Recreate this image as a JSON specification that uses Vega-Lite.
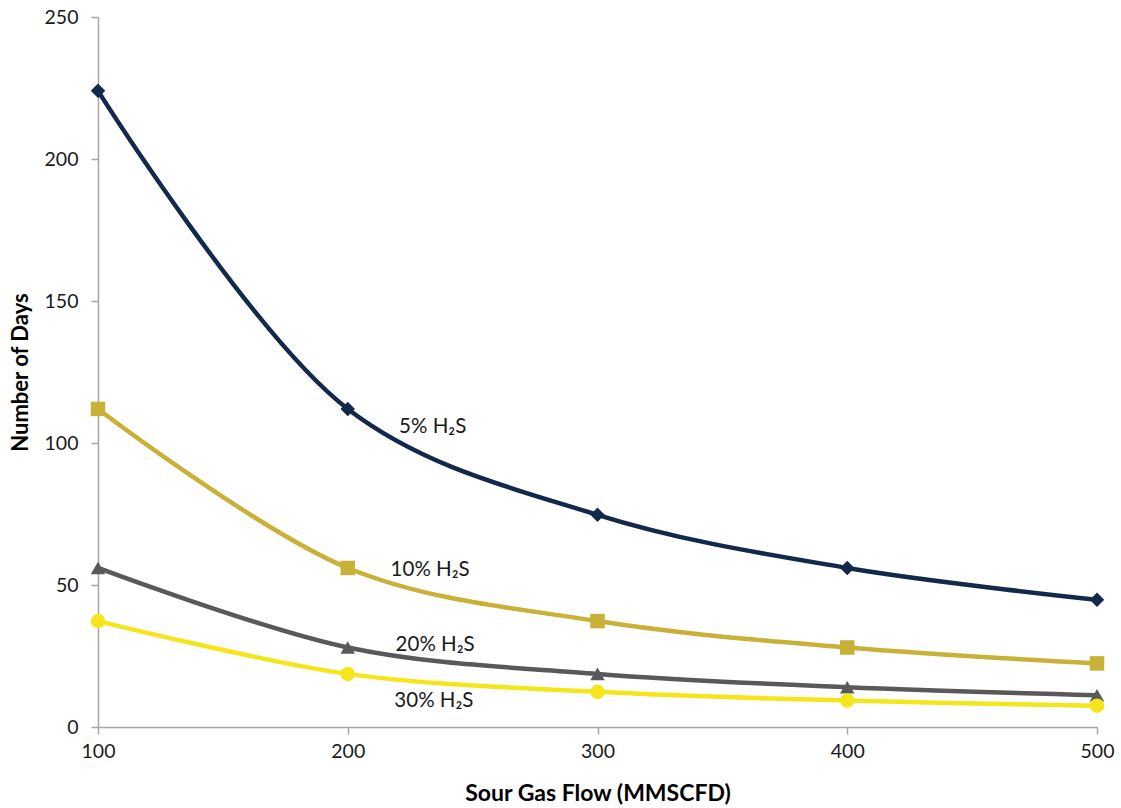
{
  "$schema": "https://vega.github.io/schema/vega-lite/v6.json",
  "width": 999,
  "height": 710,
  "autosize": {"type": "none"},
  "padding": {"left": 98, "top": 17, "right": 24, "bottom": 81},
  "background": "white",
  "config": {
    "view": {"stroke": null},
    "font": "Lato"
  },
  "datasets": {
    "series": [
      {"flow": 100, "days": 224, "series": "5% H2S"},
      {"flow": 200, "days": 112, "series": "5% H2S"},
      {"flow": 300, "days": 74.7, "series": "5% H2S"},
      {"flow": 400, "days": 56, "series": "5% H2S"},
      {"flow": 500, "days": 44.8, "series": "5% H2S"},
      {"flow": 100, "days": 112, "series": "10% H2S"},
      {"flow": 200, "days": 56, "series": "10% H2S"},
      {"flow": 300, "days": 37.3, "series": "10% H2S"},
      {"flow": 400, "days": 28, "series": "10% H2S"},
      {"flow": 500, "days": 22.4, "series": "10% H2S"},
      {"flow": 100, "days": 56, "series": "20% H2S"},
      {"flow": 200, "days": 28, "series": "20% H2S"},
      {"flow": 300, "days": 18.7, "series": "20% H2S"},
      {"flow": 400, "days": 14, "series": "20% H2S"},
      {"flow": 500, "days": 11.2, "series": "20% H2S"},
      {"flow": 100, "days": 37.3, "series": "30% H2S"},
      {"flow": 200, "days": 18.7, "series": "30% H2S"},
      {"flow": 300, "days": 12.4, "series": "30% H2S"},
      {"flow": 400, "days": 9.3, "series": "30% H2S"},
      {"flow": 500, "days": 7.5, "series": "30% H2S"}
    ],
    "labels": [
      {"flow": 234, "days": 105.6, "label": "5% H₂S"},
      {"flow": 233, "days": 55.3, "label": "10% H₂S"},
      {"flow": 235, "days": 28.9, "label": "20% H₂S"},
      {"flow": 234.5, "days": 9.2, "label": "30% H₂S"}
    ]
  },
  "encoding": {
    "x": {
      "field": "flow", "type": "quantitative",
      "scale": {"domain": [100, 500], "nice": false},
      "axis": {
        "title": "Sour Gas Flow (MMSCFD)",
        "values": [100, 200, 300, 400, 500],
        "grid": false,
        "labelFlush": false,
        "domainColor": "#a6a6a6", "domainWidth": 1.5,
        "tickColor": "#a6a6a6", "tickSize": 7, "tickWidth": 1.5,
        "labelFontSize": 19.5, "labelColor": "#1a1a1a", "labelPadding": 8,
        "titleFontSize": 23, "titleFontWeight": "bold", "titleColor": "#000000",
        "titleBaseline": "middle", "titleY": 66
      }
    },
    "y": {
      "field": "days", "type": "quantitative",
      "scale": {"domain": [0, 250], "nice": false},
      "axis": {
        "title": "Number of Days",
        "values": [0, 50, 100, 150, 200, 250],
        "grid": false,
        "labelFlush": false,
        "domainColor": "#a6a6a6", "domainWidth": 1.5,
        "tickColor": "#a6a6a6", "tickSize": 7, "tickWidth": 1.5,
        "labelFontSize": 19.5, "labelColor": "#1a1a1a", "labelPadding": 13,
        "titleFontSize": 22, "titleFontWeight": "bold", "titleColor": "#000000",
        "titleBaseline": "middle", "titleX": -78
      }
    }
  },
  "layer": [
    {
      "data": {"name": "series"},
      "mark": {"type": "line", "interpolate": "catmull-rom", "strokeWidth": 4.5},
      "encoding": {
        "color": {
          "field": "series", "type": "nominal",
          "scale": {"domain": ["5% H2S", "10% H2S", "20% H2S", "30% H2S"], "range": ["#13294b", "#c9b037", "#595959", "#f5e51b"]},
          "legend": null
        },
        "detail": {"field": "series"}
      }
    },
    {
      "data": {"name": "series"},
      "mark": {"type": "point", "filled": true, "opacity": 1, "size": 210},
      "encoding": {
        "color": {
          "field": "series", "type": "nominal",
          "scale": {"domain": ["5% H2S", "10% H2S", "20% H2S", "30% H2S"], "range": ["#13294b", "#c9b037", "#595959", "#f5e51b"]},
          "legend": null
        },
        "shape": {
          "field": "series", "type": "nominal",
          "scale": {"domain": ["5% H2S", "10% H2S", "20% H2S", "30% H2S"], "range": ["diamond", "square", "triangle-up", "circle"]},
          "legend": null
        }
      }
    },
    {
      "data": {"name": "labels"},
      "mark": {"type": "text", "fontSize": 20.5, "color": "#1a1a1a", "align": "center", "baseline": "middle"},
      "encoding": {
        "text": {"field": "label"}
      }
    }
  ]
}
